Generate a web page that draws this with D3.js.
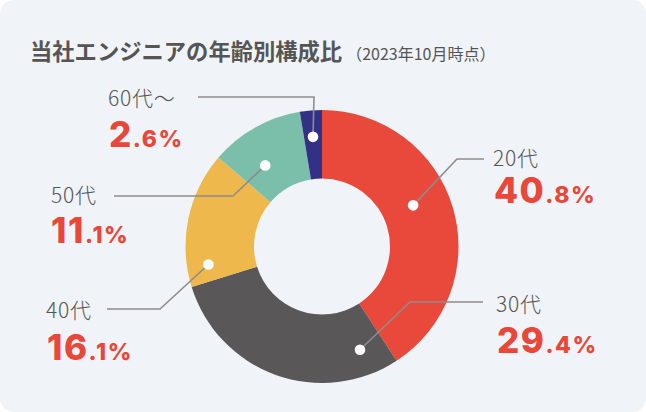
<!DOCTYPE html>
<html><head><meta charset="utf-8">
<script src="https://cdn.jsdelivr.net/npm/d3@7"></script>
<style>
html,body{margin:0;padding:0;background:#ffffff;}
svg{display:block;}
</style></head>
<body>
<script>
// ---- data ----
const categories = ["20代", "30代", "40代", "50代", "60代〜"];
const values = [40.8, 29.4, 16.1, 11.1, 2.6];
const colors = ["#e8493a", "#595757", "#eeb84c", "#7bbfab", "#333185"];
const title = "当社エンジニアの年齢別構成比";
const subtitle = "（2023年10月時点）";

// ---- layout (positions of annotations) ----
const W = 646, H = 412;
const cx = 322, cy = 246.5, rOuter = 136.5, rInner = 68;
// dot: angle (deg clockwise from top), radius; elbow & end of leader; label anchor
const layout = [
  {dotA: 65.7, dotR: 100, elbow: [457, 159], end: [484, 159], lx: 493, ly: 166, px: 494, py: 203},
  {dotA: 159.8, dotR: 110, elbow: [410, 302], end: [483, 302], lx: 496, ly: 312, px: 497, py: 353},
  {dotA: 261, dotR: 115, elbow: [160, 309], end: [107, 309], lx: 46, ly: 318, px: 47, py: 360},
  {dotA: 325, dotR: 99, elbow: [233, 196], end: [114, 196], lx: 51, ly: 203, px: 51, py: 243},
  {dotA: 355.3, dotR: 110, elbow: [314, 97], end: [198, 97], lx: 108, ly: 106, px: 109, py: 147}
];

const svg = d3.select("body").append("svg").attr("width", W).attr("height", H);

svg.append("rect").attr("x", 0).attr("y", 0).attr("width", W).attr("height", H)
  .attr("rx", 14).attr("ry", 14).attr("fill", "#f0f3f7");

const jp = "'Noto Sans CJK JP','Noto Sans',sans-serif";

const t = svg.append("text").attr("x", 30).attr("y", 60)
  .attr("font-family", jp).attr("fill", "#555555");
t.append("tspan").attr("font-size", 22.3).attr("font-weight", 700).text(title);
t.append("tspan").attr("dx", 4).attr("font-size", 16).attr("font-weight", 400).text(subtitle);

const pie = d3.pie().sort(null).value(d => d);
const arcs = pie(values);
const arc = d3.arc().innerRadius(rInner).outerRadius(rOuter);

const g = svg.append("g").attr("transform", `translate(${cx},${cy})`);
g.selectAll("path").data(arcs).join("path")
  .attr("d", arc).attr("fill", (d, i) => colors[i]);

const rad = a => a * Math.PI / 180;
layout.forEach((L, i) => {
  const dx = cx + L.dotR * Math.sin(rad(L.dotA));
  const dy = cy - L.dotR * Math.cos(rad(L.dotA));
  svg.append("path")
    .attr("d", d3.line()([[dx, dy], L.elbow, L.end]))
    .attr("fill", "none").attr("stroke", "#8e8c8c").attr("stroke-width", 1.6);
  svg.append("circle").attr("cx", dx).attr("cy", dy).attr("r", 5.3).attr("fill", "#ffffff");

  svg.append("text").attr("x", L.lx).attr("y", L.ly)
    .attr("font-family", jp).attr("font-size", 21).attr("font-weight", 300)
    .attr("letter-spacing", 0.8)
    .attr("fill", "#555555").text(categories[i]);

  const v = values[i].toFixed(1).split(".");
  const pt = svg.append("text").attr("x", L.px).attr("y", L.py)
    .attr("font-family", "Inter,'Noto Sans',sans-serif").attr("font-weight", 800).attr("fill", "#e8473a");
  pt.append("tspan").attr("font-size", 35).attr("letter-spacing", 1.5).text(v[0]);
  pt.append("tspan").attr("font-size", 23).attr("letter-spacing", 1.5).text("." + v[1] + "%");
});
</script>
</body></html>
